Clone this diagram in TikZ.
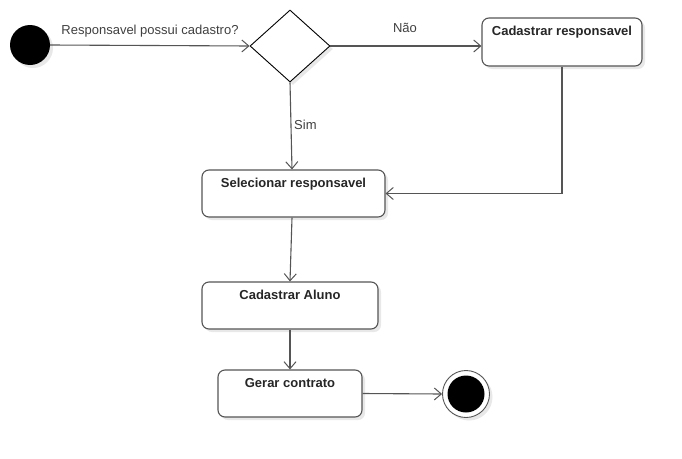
\documentclass[tikz,border=0pt]{standalone}
\usepackage{fontspec}
\setmainfont{Liberation Sans}
\usetikzlibrary{arrows.meta,shadows,shapes.geometric}
\definecolor{ln}{HTML}{555555}
\definecolor{shd}{HTML}{E8E8E8}
\tikzset{
  sh/.style={drop shadow={shadow xshift=3pt,shadow yshift=-3pt,fill=shd,opacity=1}},
  actbox/.style={draw=ln,line width=1.1pt,rounded corners=7pt,fill=white,sh,inner sep=0pt},
  boxtext/.style={font=\fontsize{13}{15}\selectfont\bfseries,text=black!85,inner sep=0pt,yshift=-8.5pt},
  flow/.style={draw=ln,line width=1.1pt,-{Straight Barb[length=7pt,width=12pt,line width=1pt]}},
  lbl/.style={font=\fontsize{13}{15}\selectfont,text=black!75,inner sep=0pt},
}
\begin{document}
\begin{tikzpicture}[x=1pt,y=-1pt]
\useasboundingbox[fill=white] (0,0) rectangle (682,458);
\node[circle,fill=black,minimum size=40pt,inner sep=0pt,sh] (start) at (30,45) {};
\node[diamond,draw=black,line width=0.9pt,fill=white,minimum width=80pt,minimum height=72pt,inner sep=0pt,aspect=1.11,sh] (dec) at (290,46) {};
\node[actbox,minimum width=160pt,minimum height=48pt] (cr) at (562,42) {};
\node[boxtext,anchor=north] (crt) at (cr.north) {Cadastrar responsavel};
\node[actbox,minimum width=183pt,minimum height=47pt] (sr) at (293.5,193.5) {};
\node[boxtext,anchor=north] (srt) at (sr.north) {Selecionar responsavel};
\node[actbox,minimum width=176pt,minimum height=47pt] (ca) at (290,305.5) {};
\node[boxtext,anchor=north] (cat) at (ca.north) {Cadastrar Aluno};
\node[actbox,minimum width=144pt,minimum height=47pt] (gc) at (290,393.5) {};
\node[boxtext,anchor=north] (gct) at (gc.north) {Gerar contrato};
\node[circle,draw=ln,line width=0.9pt,fill=white,minimum size=47pt,inner sep=0pt,sh] (end) at (466,394) {};
\node[circle,fill=black,minimum size=37pt,inner sep=0pt] (endin) at (end.center) {};

\draw[flow] (start.east) -- (dec.west);
\node[lbl] (l1) at (150,31) {Responsavel possui cadastro?};
\draw[flow] (dec.east) -- (dec.east -| cr.west);
\node[lbl] (l2) at (405,28) {Não};
\draw[flow] (dec.south) -- ([xshift=-1.5pt]sr.north);
\node[lbl,anchor=west] (l3) at (294,125) {Sim};
\draw[flow] (cr.south) |- (sr.east);
\draw[flow] ([xshift=-1.5pt]sr.south) -- (ca.north);
\draw[flow] (ca.south) -- (gc.north);
\draw[flow] (gc.east) -- (end.west);
\end{tikzpicture}
\end{document}
